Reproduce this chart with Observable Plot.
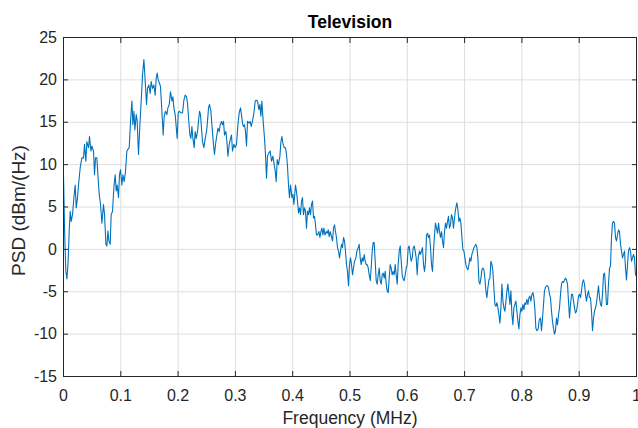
<!DOCTYPE html>
<html>
<head>
<meta charset="utf-8">
<script src="https://cdn.jsdelivr.net/npm/d3@7"></script>
<script src="https://cdn.jsdelivr.net/npm/@observablehq/plot@0.6"></script>
<style>
  body { margin: 0; background: #fff; }
</style>
</head>
<body>
<div id="chart"></div>
<script>
const titleText = "Television";
const xLabel = "Frequency (MHz)";
const yLabel = "PSD (dBm/(Hz)";
const xTicks = [0, 0.1, 0.2, 0.3, 0.4, 0.5, 0.6, 0.7, 0.8, 0.9, 1];
const yTicks = [-15, -10, -5, 0, 5, 10, 15, 20, 25];

const freq = [
0,0.002,0.004,0.006,0.008,0.010,
0.0117,0.0134,0.0157,0.0187,0.0204,0.0222,0.0245,0.0262,0.0291,0.032,0.035,0.0367,0.039,0.0408,0.0437,0.0454,0.0478,0.0495,0.0524,0.0541,0.0559,0.0582,0.06,0.0623,0.0646,0.067,0.0698,0.0716,0.074,0.0757,0.0775,0.0792,0.0815,0.0832,0.0856,0.0879,0.0902,0.092,0.0937,0.096,0.0977,0.0995,0.1019,0.1037,0.106,0.1082,0.1106,0.1124,0.1147,0.117,0.1194,0.1211,0.1229,0.1246,0.1269,0.1286,0.1309,0.1333,0.1356,0.1379,0.1403,0.1426,0.1449,0.1466,0.149,0.1513,0.153,0.1553,0.1577,0.16,0.1618,0.1635,0.1653,0.1675,0.1693,0.1717,0.174,0.1757,0.178,0.1804,0.1822,0.1845,0.1867,0.1892,0.1909,0.1927,0.1949,
0.1984,0.2002,0.2019,0.2054,0.2077,0.2101,0.2124,0.2147,0.2164,0.2182,0.2206,0.2223,0.2241,0.2258,0.2281,0.2298,0.2316,0.2339,0.2356,0.2374,0.2391,0.2408,0.2426,0.245,0.2473,0.2496,0.2513,0.2531,0.2548,0.2572,0.259,0.2613,0.2635,0.2653,0.2677,0.2695,0.2717,0.2735,0.2757,0.2775,0.2792,0.281,0.2834,0.2852,0.2869,0.2892,0.2915,0.2932,0.2949,0.2974,0.2997,0.3019,0.3044,0.3066,0.3089,0.3106,0.3124,0.3141,0.3159,0.3176,0.3194,0.3211,0.3236,0.3258,0.3276,0.3298,0.3323,0.3346,0.3363,0.3386,0.341,0.3428,0.3445,0.3462,0.3485,0.3508,0.3525,0.3543,0.356,0.3585,0.3607,0.363,0.3654,0.3677,0.3695,0.3712,0.373,0.3752,0.3777,0.3794,0.3812,0.3829,0.3852,0.3874,0.3892,0.3909,0.3927,0.3944,0.3962,0.3986,0.4003,0.4021,
0.4049,0.4066,0.4084,0.4101,0.4119,0.4136,0.4154,0.4171,0.4188,0.4206,0.4223,0.4241,0.4258,0.4276,0.4293,0.4311,0.4328,0.4346,0.4363,0.438,0.4398,0.4415,0.4433,0.4457,0.4475,0.4492,0.451,0.4527,0.4545,0.4562,0.4585,0.4602,0.462,0.4637,0.4654,0.4677,0.4695,0.4712,0.473,0.4747,0.4764,0.4782,0.4799,0.4817,0.4834,0.4852,0.4869,0.4887,0.4904,0.4921,0.4939,0.4956,0.4974,0.4991,0.5009,0.5026,0.5044,0.5061,0.5079,0.5103,0.512,0.5143,0.516,0.5178,0.5195,0.5213,0.523,0.5248,0.5265,0.5283,0.53,0.5318,0.5335,0.5353,0.537,0.5387,0.5405,0.5422,0.544,0.5457,0.5475,0.5492,0.551,0.5527,0.5545,0.5562,0.5579,0.5597,0.5614,0.5632,0.5649,0.5667,0.5684,0.5702,0.5719,0.5736,0.5754,0.5771,0.5789,0.5806,0.5824,0.5841,0.5859,0.5876,0.5894,0.5911,0.5928,0.5946,0.5963,0.5981,0.5998,0.6016,0.6033,0.6051,0.6068,0.6086,0.6103,0.6121,0.6138,0.6155,0.6173,0.619,
0.6213,0.623,0.6248,0.6265,0.6283,0.63,0.6318,0.6335,0.6353,0.637,0.6387,0.6405,0.6422,0.644,0.6457,0.6475,0.6492,0.651,0.6527,0.6545,0.6562,0.6579,0.6597,0.6614,0.6632,0.6649,0.6667,0.6684,0.6702,0.6719,0.6736,0.6754,0.6771,0.6789,0.6806,0.6824,0.6841,0.6865,0.6883,0.69,0.6918,0.6935,0.6953,0.697,0.6988,0.7005,0.7023,0.704,0.7058,0.7075,0.7092,0.711,0.7127,0.7145,0.7162,0.718,0.7197,0.7215,0.7232,0.725,0.7267,0.7285,0.7302,0.7319,0.7337,0.7354,0.7372,0.7389,0.7407,0.7424,0.7442,0.7459,0.7477,0.7494,0.7511,0.7529,0.7546,0.7564,0.7581,0.7599,0.7616,0.7634,0.7651,0.7669,0.7686,0.7703,0.7721,0.7738,0.7756,0.7773,0.7791,0.7808,0.7826,0.7843,0.786,0.7878,0.7895,0.7913,0.793,0.7948,0.7965,0.7983,0.8,0.8017,0.8035,0.8052,0.807,0.8087,0.8105,0.8122,0.814,0.8157,0.8175,0.8192,0.8209,0.8227,0.8244,0.8262,0.8284,0.8302,
0.8325,0.8342,0.836,0.8377,0.8394,0.8412,0.8429,0.8447,0.8464,0.8482,0.8499,0.8517,0.8534,0.8551,0.8569,0.8586,0.8604,0.8621,0.8639,0.8656,0.8674,0.8691,0.8709,0.8726,0.8743,0.8761,0.8778,0.8796,0.8813,0.8831,0.8848,0.8866,0.8883,0.8901,0.8918,0.8935,0.8953,0.897,0.8988,0.9005,0.9023,0.904,0.9058,0.9075,0.9093,0.911,0.9127,0.9145,0.9162,0.918,0.9197,0.9215,0.9232,0.925,0.9267,0.9284,0.9302,0.9319,0.9337,0.9354,0.9372,0.9389,0.9407,0.9424,0.9442,0.9459,0.9476,0.9494,0.9511,0.9529,0.9546,0.9564,0.9581,0.9599,0.9616,0.9634,0.9651,0.9668,0.9686,0.9703,0.9721,0.9738,0.9756,0.9773,0.9791,0.9808,0.9825,0.9843,0.986,0.9878,0.9895,0.9913,0.993,0.9948,0.9965,0.9983,1.0
];

const psd = [
8.8,2.0,-2.5,-3.5,-1.5,2.2,
4.5,3.3,4.1,6.5,7.6,4.9,6.1,7.6,9.6,10.8,10.8,12.4,10.4,12.7,12.0,13.3,11.6,12.2,11.6,8.8,10.8,10.8,8.8,6.5,5.3,3.1,5.3,4.1,0.6,0.4,2.2,1.0,0.6,4.1,4.5,7.3,8.8,6.9,7.6,6.1,8.8,9.4,7.6,8.8,8.0,9.2,11.6,11.8,12.0,15.1,17.5,14.7,16.3,14.1,15.9,15.1,11.2,14.7,17.5,20.6,22.4,19.8,17.1,19.0,19.4,18.4,19.8,19.0,19.4,18.2,20.2,20.8,20.0,19.6,19.2,16.3,13.5,15.7,16.3,15.9,16.7,17.1,18.6,17.5,18.0,16.7,15.9,
13.1,16.1,16.3,16.1,16.1,17.6,18.2,18.0,17.3,15.5,13.5,13.1,14.5,13.1,12.0,13.9,13.1,13.9,15.1,16.3,15.9,14.3,12.7,12.0,13.1,13.9,15.1,16.7,17.1,16.3,14.7,12.7,11.2,12.4,13.5,14.3,13.9,14.7,15.1,14.7,15.1,13.5,13.9,12.7,11.0,12.4,13.1,13.5,11.6,12.4,12.0,12.4,14.7,16.1,16.7,15.9,14.9,14.5,14.7,13.9,12.2,15.1,14.9,15.1,14.5,15.1,16.1,17.5,17.6,17.5,16.5,17.1,15.7,17.5,15.1,13.1,11.2,8.4,11.0,11.4,11.6,10.4,11.0,10.0,9.2,8.0,10.6,10.0,11.0,12.7,13.3,12.5,12.0,12.0,11.2,9.8,7.6,6.1,7.6,6.1,6.5,5.3,
7.6,6.8,5.7,4.3,4.9,4.1,5.7,6.1,4.1,4.9,4.5,2.5,4.5,4.1,4.9,4.1,5.3,5.7,3.7,3.9,2.9,1.7,1.7,2.1,1.4,2.1,2.5,1.7,2.5,1.7,2.1,1.9,2.3,1.5,2.1,1.5,1.0,2.5,2.9,2.1,1.4,0.2,-0.2,-1.0,-0.2,0.6,0.2,1.4,1.0,-0.2,-1.8,-2.6,-4.3,-1.8,-1.0,-1.8,-3.0,-2.2,-1.4,-1.0,-0.2,0.2,0.6,-1.0,-1.8,-1.0,-1.4,-0.6,-1.4,-1.8,-1.8,-2.2,-3.0,-3.7,-2.2,-0.2,0.8,0.8,-1.4,-3.7,-4.1,-3.0,-2.2,-3.7,-4.1,-3.0,-2.8,-3.4,-2.6,-4.1,-4.9,-5.1,-3.4,-1.8,-2.2,-3.0,-2.6,-3.0,-1.8,-3.0,-4.1,-1.8,-0.2,0.4,-1.4,-3.0,-3.5,-3.7,-3.0,-2.2,-1.8,0.2,0.4,-0.6,-1.4,-1.0,0.2,0.4,-0.2,-1.0,-3.0,-1.0,
-0.2,-0.6,-0.2,0.2,-1.8,-2.6,-1.4,1.7,1.9,1.4,1.7,0.2,-1.8,-2.6,-0.2,1.7,3.1,2.5,1.9,3.1,2.1,1.4,2.1,1.0,0.2,2.1,3.1,2.5,3.3,3.9,2.5,2.9,4.1,3.7,2.5,3.7,4.7,5.5,4.7,3.3,3.7,3.1,1.4,0.0,-0.2,-1.0,-1.8,-2.2,-2.4,-1.8,-1.0,-1.4,-0.6,-0.2,0.2,0.4,0.6,0.2,-1.0,-3.8,-4.1,-3.4,-2.4,-2.2,-2.4,-3.4,-4.9,-5.7,-4.5,-3.6,-3.4,-1.4,-1.8,-2.6,-4.5,-6.5,-6.7,-6.3,-6.9,-7.7,-8.7,-6.9,-4.1,-6.1,-6.9,-7.3,-6.1,-4.9,-4.1,-5.3,-6.5,-4.9,-7.7,-8.9,-6.9,-6.5,-6.1,-7.3,-8.5,-9.4,-7.7,-6.9,-7.3,-6.5,-7.1,-6.3,-6.5,-5.9,-6.5,-5.7,-5.5,-6.1,-5.3,-5.1,-5.7,-7.1,-9.3,-9.6,-9.4,-8.3,
-8.1,-9.6,-8.1,-6.5,-4.9,-4.5,-4.3,-4.3,-4.5,-5.3,-5.7,-7.3,-8.5,-9.3,-10.0,-9.6,-8.1,-8.9,-7.7,-6.9,-5.3,-4.1,-3.8,-3.9,-3.6,-3.4,-3.6,-4.1,-6.1,-8.1,-6.5,-5.3,-5.3,-6.1,-6.9,-7.5,-7.3,-6.5,-5.5,-5.3,-5.7,-4.9,-3.9,-3.6,-4.1,-5.3,-6.1,-5.3,-4.9,-5.7,-5.7,-7.3,-9.6,-8.1,-7.3,-6.9,-6.3,-5.3,-4.3,-5.7,-6.5,-6.7,-5.3,-3.0,-2.8,-4.5,-6.5,-6.5,-4.1,-2.2,-2.0,1.4,3.1,3.3,3.1,1.4,1.0,1.7,2.3,2.1,0.6,-0.2,-1.0,-0.6,-0.2,-2.2,-3.6,-1.8,-0.2,0.2,-0.2,-1.4,-1.0,-0.6,-1.0,-3.0,-3.2
];

if (freq.length !== psd.length) throw new Error("length mismatch " + freq.length + " vs " + psd.length);
const data = freq.map((f, i) => ({f, p: psd[i]}));

const axisColor = "#262626";
const fontFamily = "'Liberation Sans', Arial, Helvetica, sans-serif";

const chart = Plot.plot({
  width: 638,
  height: 428,
  marginLeft: 63,
  marginRight: 2,
  marginTop: 37,
  marginBottom: 52,
  style: {fontFamily, fontSize: "16px", background: "#fff", color: axisColor},
  x: {domain: [0, 1], label: null},
  y: {domain: [-15, 25], label: null},
  marks: [
    Plot.gridX(xTicks, {stroke: "#dedede", strokeOpacity: 1}),
    Plot.gridY(yTicks, {stroke: "#dedede", strokeOpacity: 1}),
    Plot.line(data, {x: "f", y: "p", stroke: "#0072BD", strokeWidth: 1.1}),
    Plot.frame({stroke: axisColor, strokeWidth: 1}),
    // inward ticks on all four sides
    Plot.axisX({anchor: "bottom", ticks: xTicks, tickSize: 5, dy: -5, tickFormat: () => "", label: null, color: axisColor}),
    Plot.axisX({anchor: "top", ticks: xTicks, tickSize: 5, dy: 5, tickFormat: () => "", label: null, color: axisColor}),
    Plot.axisY({anchor: "left", ticks: yTicks, tickSize: 5, dx: 5, tickFormat: () => "", label: null, color: axisColor}),
    Plot.axisY({anchor: "right", ticks: yTicks, tickSize: 5, dx: -5, tickFormat: () => "", label: null, color: axisColor}),
    // tick labels
    Plot.axisX({anchor: "bottom", ticks: xTicks, tickSize: 0, tickPadding: 13.5, tickFormat: d => String(d), label: null, fontSize: 16, color: axisColor}),
    Plot.axisY({anchor: "left", ticks: yTicks, tickSize: 0, tickPadding: 6.5, tickFormat: d => String(d), label: null, fontSize: 16, color: axisColor}),
    // title and axis labels
    Plot.text([titleText], {text: d => d, frameAnchor: "top", lineAnchor: "middle", textAnchor: "middle", dy: -15.3, fontSize: 17.5, fontWeight: "bold", fill: "#000"}),
    Plot.text([xLabel], {text: d => d, frameAnchor: "bottom", lineAnchor: "middle", textAnchor: "middle", dy: 42, fontSize: 17.5, fill: axisColor}),
    Plot.text([yLabel], {text: d => d, frameAnchor: "left", lineAnchor: "middle", textAnchor: "middle", dx: -44.5, dy: 3.5, rotate: -90, fontSize: 19, fill: axisColor})
  ]
});
document.getElementById("chart").appendChild(chart);
</script>
</body>
</html>
